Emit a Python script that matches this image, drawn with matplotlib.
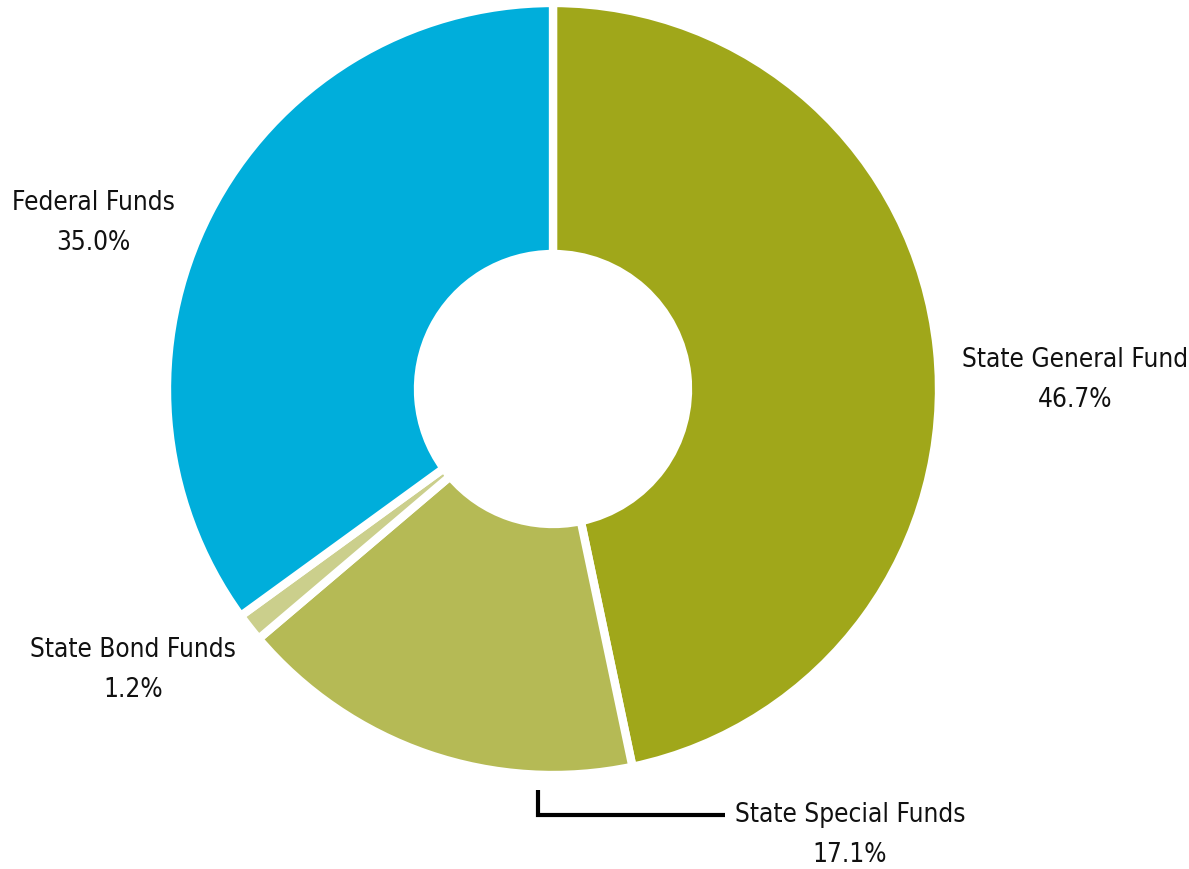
import matplotlib
matplotlib.use("Agg")
import matplotlib.pyplot as plt

categories = ["State General Fund", "State Special Funds", "State Bond Funds", "Federal Funds"]
shares = [46.7, 17.1, 1.2, 35.0]
pct_labels = ["46.7%", "17.1%", "1.2%", "35.0%"]
colors = ["#A0A71A", "#B5BA55", "#CBCF8C", "#00AEDB"]

W, H = 1189, 869
fig = plt.figure(figsize=(W / 100, H / 100), dpi=100)
ax = fig.add_axes([0, 0, 1, 1])

cx, cy, R = 553, H - 389, 386
hole = 135
ax.pie(shares, colors=colors, startangle=90, counterclock=False,
       center=(cx, cy), radius=R,
       wedgeprops=dict(width=R - hole, edgecolor="white", linewidth=6))
ax.set_xlim(0, W)
ax.set_ylim(0, H)
ax.set_aspect("equal")
ax.axis("off")

fp = dict(family="DejaVu Sans", stretch="condensed")
fs = 18.8
label_pos = {
    "Federal Funds": (93, 203),
    "State General Fund": (1075, 360),
    "State Bond Funds": (133, 650),
    "State Special Funds": (850, 815),
}
for cat, pct in zip(categories, pct_labels):
    x, y = label_pos[cat]
    ax.text(x, H - y, cat, ha="center", va="center", fontsize=fs, color="#111111", **fp)
    ax.text(x, H - (y + 40), pct, ha="center", va="center", fontsize=fs, color="#111111", **fp)

ax.plot([538, 538, 725], [H - 790, H - 815, H - 815], color="black", lw=3,
        solid_joinstyle="miter", solid_capstyle="butt")

fig.savefig("out.png", dpi=100)
